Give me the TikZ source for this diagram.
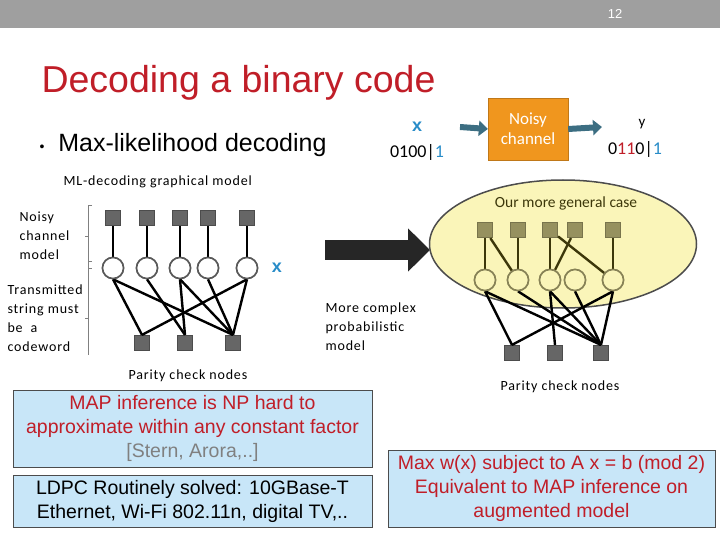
\documentclass[tikz,border=0pt]{standalone}
\usepackage{fontspec}
\setmainfont{Liberation Sans}
\newfontfamily\calib{Carlito}
\newfontfamily\calibw[LetterSpace=6]{Carlito}
\usetikzlibrary{arrows.meta,shapes.geometric}
\definecolor{titlered}{RGB}{192,30,40}
\definecolor{xblue}{RGB}{40,140,200}
\definecolor{boxblue}{RGB}{200,230,248}
\definecolor{chanorange}{RGB}{240,150,30}
\definecolor{arrteal}{RGB}{60,110,130}
\definecolor{ellfill}{RGB}{250,245,185}
\definecolor{olivesq}{RGB}{150,145,95}
\definecolor{oliveline}{RGB}{60,55,10}
\begin{document}
\begin{tikzpicture}[x=1pt,y=-1pt,
    factornode/.style={rectangle, draw=gray!60!black, fill=gray!80!black, line width=1.2pt, minimum size=15pt, inner sep=0pt},
    varnode/.style={circle, draw=gray!70!black, fill=white, line width=1.6pt, minimum size=21pt, inner sep=0pt},
    ofactornode/.style={factornode, draw=olivesq!80!black, fill=olivesq},
    ovarnode/.style={varnode, draw=olivesq!90!black, fill=ellfill},
    edgeline/.style={line width=2.4pt, black},
    oedgeline/.style={line width=2.4pt, oliveline},
    note/.style={font=\calibw\fontsize{14}{19}\selectfont, align=left, anchor=west},
    infobox/.style={draw=gray!60!black, fill=boxblue, line width=1pt, align=center, font=\fontsize{19.5}{24}\selectfont}]
  \useasboundingbox (0,0) rectangle (720,540);
  % Top bar and title.
  \fill[gray!75] (0,0) rectangle (720,28);
  \node[text=white, font=\fontsize{13}{15}\selectfont, name=PageNum] at (615,14) {12};
  \node[text=titlered, anchor=west, font=\fontsize{37.5}{42}\selectfont, name=Title] at (38,83) {Decoding a binary code};
  \node[anchor=west, font=\fontsize{25}{28}\selectfont, name=MaxLik] at (36,145) {{\fontsize{14}{16}\selectfont\textbullet}\ \ Max-likelihood decoding};

  % Channel.
  \node[text=xblue, font=\bfseries\fontsize{18}{20}\selectfont, name=XLabel] at (417,127) {x};
  \node[font=\calib\fontsize{18}{20}\selectfont, name=XWord] at (417,152) {0100|{\color{xblue}1}};
  \node[rectangle, fill=chanorange, draw=chanorange!80!black, minimum width=80pt, minimum height=62pt, align=center, text=white, font=\calib\fontsize{17}{20}\selectfont, name=Channel] at (528,129) {Noisy\\channel};
  \node[font=\calib\fontsize{15}{17}\selectfont, name=YLabel] at (642,124) {y};
  \node[font=\calib\fontsize{18}{20}\selectfont, name=YWord] at (635,149) {0{\color{titlered}11}0|{\color{xblue}1}};
  \draw[-{Triangle[length=9pt,width=15pt]}, line width=6pt, arrteal] (460,127) -- (Channel.west);
  \draw[-{Triangle[length=9pt,width=15pt]}, line width=6pt, arrteal] (Channel.east) -- (602,127);

  % Left graphical model.
  \node[note, name=MLNote] at (60,182) {ML-decoding graphical model};
  \node[note, name=ChanNote] at (16,236) {Noisy\\channel\\model};
  \node[note, name=CodeNote] at (4,318) {Transmitted\\string must\\be\ \ a\\codeword};
  \draw[gray, line width=0.6pt] (92,205) -- (88,205) -- (88,268) -- (92,268) (88,236) -- (85,236);
  \draw[gray, line width=0.6pt] (92,261) -- (88,261) -- (88,355) (88,318) -- (85,318);
  \foreach \i/\x in {1/113,2/147,3/180,4/208,5/247} {
    \node[factornode, name=lf\i] at (\x,218) {};
    \node[varnode, name=lv\i] at (\x,268) {};
    \draw[edgeline] (lf\i) -- (lv\i);
  }
  \foreach \i/\x in {1/142,2/185,3/233}
    \node[factornode, name=lb\i] at (\x,343) {};
  \foreach \v/\b in {1/1,1/3,2/2,3/2,3/3,4/3,5/1,5/3}
    \draw[edgeline] (lv\v.south) -- (lb\b.north);
  \foreach \i in {1,...,5} \node[varnode] at (lv\i) {};
  \node[text=xblue, font=\bfseries\fontsize{18}{20}\selectfont, name=LeftX] at (277,268) {x};
  \node[note, name=LeftParity] at (125,376) {Parity check nodes};

  % Big arrow.
  \draw[-{Triangle[length=22pt,width=42pt]}, line width=20pt, gray!30!black] (325,250) -- (430,250);
  \node[note, name=ComplexNote] at (322,327) {More complex\\probabilistic\\model};

  % Right graphical model.
  \node[ellipse, draw=gray!60!black, fill=ellfill, line width=1.5pt, minimum width=267pt, minimum height=128pt, name=General] at (563,244) {};
  \node[font=\calib\fontsize{15.5}{17}\selectfont, text=oliveline, name=GenNote] at (566,203) {Our more general case};
  \foreach \i/\x in {1/485,2/518,3/550,4/575,5/613} {
    \node[ofactornode, name=rf\i] at (\x,230) {};
    \node[ovarnode, name=rv\i] at (\x,280) {};
  }
  \foreach \f/\v in {1/1,1/2,2/2,3/3,3/5,4/3,5/5}
    \draw[oedgeline] (rf\f) -- (rv\v);
  \foreach \i/\x in {1/512,2/555,3/601}
    \node[factornode, name=rb\i] at (\x,353) {};
  \foreach \v/\b in {1/1,1/3,2/3,3/2,3/3,4/3,5/1,5/3}
    \draw[edgeline] (rv\v.south) -- (rb\b.north);
  \foreach \i in {1,...,5} \node[ovarnode] at (rv\i) {};
  \node[note, name=RightParity] at (497,387) {Parity check nodes};

  % Text boxes.
  \node[infobox, minimum width=359pt, minimum height=77pt, name=MapBox] at (192.5,428.5) {{\color{titlered}MAP inference is NP hard to}\\{\color{titlered}approximate within any constant factor}\\{\color{gray}[Stern, Arora,..]}};
  \node[infobox, minimum width=359pt, minimum height=52pt, name=LdpcBox] at (192.5,501) {LDPC Routinely solved: 10GBase-T\\Ethernet, Wi-Fi 802.11n, digital TV,..};
  \node[infobox, minimum width=327pt, minimum height=77pt, text=titlered, name=GenBox] at (551.5,488.5) {Max w(x) subject to A x = b (mod 2)\\Equivalent to MAP inference on\\augmented model};
\end{tikzpicture}
\end{document}
